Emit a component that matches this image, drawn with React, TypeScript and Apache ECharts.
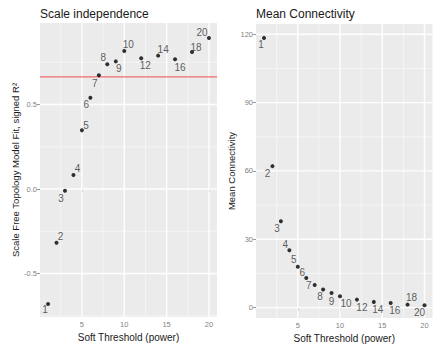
import React, { useEffect, useRef } from "react";
import * as echarts from "echarts";

// Soft-threshold powers tested
const powers = [1, 2, 3, 4, 5, 6, 7, 8, 9, 10, 12, 14, 16, 18, 20];
// Scale-free topology fit, signed R^2
const signedR2 = [-0.68, -0.318, -0.01, 0.083, 0.347, 0.54, 0.673, 0.738, 0.755, 0.817, 0.773, 0.789, 0.767, 0.81, 0.893];
// Mean connectivity per power
const meanConnectivity = [118.4, 62.1, 37.9, 25.2, 17.9, 13.0, 9.9, 7.9, 6.4, 5.0, 3.5, 2.5, 2.0, 1.3, 1.0];
// Cut-off line
const r2Cutoff = 0.663;

// Axis ticks
const xTicks = [5, 10, 15, 20];
const xMinor = [2.5, 7.5, 12.5, 17.5];
const r2Ticks = [-0.5, 0, 0.5];
const r2Minor = [-0.75, -0.25, 0.25, 0.75];
const kTicks = [0, 30, 60, 90, 120];
const kMinor = [15, 45, 75, 105];

// Axis ranges (data range plus 5% padding each side)
const xRange = [0.05, 20.95];
const r2Range = [-0.757, 0.982];
const kRange = [-4.57, 124.5];

// Label nudges (px) for each point's power label
const r2LabelOffsets = [
  [-3, 6], [4, -6], [-4, 8], [4, -6], [4, -5], [-4, 7], [-4, 8], [-4, -7],
  [3, 7], [4, -6], [4, 7], [5, -6], [5, 8], [4, -5], [-7, -6],
];
const kLabelOffsets = [
  [-3, 7], [-5, 7], [-4, 7], [-4, -6], [-4, -7], [-4, -5], [-6, 0], [-3, 7],
  [0, 8], [6, 7], [5, 8], [4, 8], [4, 7], [4, -7], [-5, 7],
];

const FONT = "Liberation Sans, Arial, sans-serif";

// Background grid drawn as two-point line series on the panel's axes
function gridSeries(
  axisIndex: number,
  yRange: number[],
  xMaj: number[],
  xMin: number[],
  yMaj: number[],
  yMin: number[]
) {
  const mk = (pts: number[][], width: number, color: string) => ({
    type: "line",
    xAxisIndex: axisIndex,
    yAxisIndex: axisIndex,
    data: pts,
    symbol: "none",
    silent: true,
    z: 2,
    lineStyle: { color, width },
  });
  return [
    ...xMin.map((v) => mk([[v, yRange[0]], [v, yRange[1]]], 0.8, "#f7f7f7")),
    ...yMin.map((v) => mk([[xRange[0], v], [xRange[1], v]], 0.8, "#f7f7f7")),
    ...xMaj.map((v) => mk([[v, yRange[0]], [v, yRange[1]]], 1.4, "#fefefe")),
    ...yMaj.map((v) => mk([[xRange[0], v], [xRange[1], v]], 1.4, "#fefefe")),
  ];
}

export default function App() {
  const ref = useRef<HTMLDivElement>(null);

  useEffect(() => {
    if (!ref.current) return;
    const chart = echarts.init(ref.current, undefined, { renderer: "svg" });

    const xAxisCommon = (gridIndex: number) => ({
      type: "value" as const,
      gridIndex,
      min: xRange[0],
      max: xRange[1],
      name: "Soft Threshold (power)",
      nameLocation: "middle" as const,
      nameGap: 15,
      nameTextStyle: { fontFamily: FONT, fontSize: 10, color: "#1a1a1a" },
      axisLine: { show: false },
      axisTick: { show: true, length: 3, lineStyle: { color: "#9a9a9a" }, customValues: xTicks },
      axisLabel: { fontFamily: FONT, fontSize: 7.5, color: "#7f7f7f", margin: 3, customValues: xTicks },
      splitLine: { show: false },
    });

    const pointData = (ys: number[], offsets: number[][]) =>
      powers.map((p, i) => ({
        value: [p, ys[i]],
        label: { offset: offsets[i] },
      }));

    const pointLabel = {
      show: true,
      position: "inside" as const,
      formatter: (p: any) => String(p.value[0]),
      fontFamily: FONT,
      fontSize: 10,
      color: "#333333",
      textBorderWidth: 0,
      textShadowBlur: 0,
    };

    const titleStyle = { fontFamily: FONT, fontSize: 12, fontWeight: "normal" as const, color: "#1a1a1a" };

    chart.setOption({
      animation: false,
      title: [
        { text: "Scale independence", left: 40, top: 8, padding: 0, textStyle: titleStyle },
        { text: "Mean Connectivity", left: 256, top: 8, padding: 0, textStyle: titleStyle },
      ],
      grid: [
        { left: 40, top: 23, width: 177, height: 294, show: true, backgroundColor: "#ebebeb", borderWidth: 0, outerBoundsMode: "none" },
        { left: 256, top: 24, width: 176.5, height: 294, show: true, backgroundColor: "#ebebeb", borderWidth: 0, outerBoundsMode: "none" },
      ],
      xAxis: [xAxisCommon(0), xAxisCommon(1)],
      yAxis: [
        {
          type: "value",
          gridIndex: 0,
          min: r2Range[0],
          max: r2Range[1],
          name: "Scale Free Topology Model Fit, signed R²",
          nameLocation: "middle",
          nameGap: 17,
          nameTextStyle: { fontFamily: FONT, fontSize: 9.5, color: "#1a1a1a" },
          axisLine: { show: false },
          axisTick: { show: true, length: 3, lineStyle: { color: "#9a9a9a" }, customValues: r2Ticks },
          axisLabel: { fontFamily: FONT, fontSize: 7.5, color: "#7f7f7f", margin: 3, customValues: r2Ticks, formatter: (v: number) => v.toFixed(1) },
          splitLine: { show: false },
        },
        {
          type: "value",
          gridIndex: 1,
          min: kRange[0],
          max: kRange[1],
          name: "Mean Connectivity",
          nameLocation: "middle",
          nameGap: 20,
          nameTextStyle: { fontFamily: FONT, fontSize: 9.5, color: "#1a1a1a" },
          axisLine: { show: false },
          axisTick: { show: true, length: 3, lineStyle: { color: "#9a9a9a" }, customValues: kTicks },
          axisLabel: { fontFamily: FONT, fontSize: 7.5, color: "#7f7f7f", margin: 3, customValues: kTicks },
          splitLine: { show: false },
        },
      ],
      series: [
        ...gridSeries(0, r2Range, xTicks, xMinor, r2Ticks, r2Minor),
        ...gridSeries(1, kRange, xTicks, xMinor, kTicks, kMinor),
        {
          type: "line",
          xAxisIndex: 0,
          yAxisIndex: 0,
          data: [[xRange[0], r2Cutoff], [xRange[1], r2Cutoff]],
          symbol: "none",
          silent: true,
          z: 2,
          lineStyle: { color: "#f26b6b", width: 1.2 },
        },
        {
          type: "scatter",
          xAxisIndex: 0,
          yAxisIndex: 0,
          z: 3,
          symbolSize: 4,
          itemStyle: { color: "#000000" },
          label: pointLabel,
          data: pointData(signedR2, r2LabelOffsets),
        },
        {
          type: "scatter",
          xAxisIndex: 1,
          yAxisIndex: 1,
          z: 3,
          symbolSize: 4,
          itemStyle: { color: "#000000" },
          label: pointLabel,
          data: pointData(meanConnectivity, kLabelOffsets),
        },
      ],
    });

    return () => chart.dispose();
  }, []);

  return (
    <div
      ref={ref}
      style={{ position: "fixed", left: 0, top: 0, width: 434, height: 347, background: "#fff" }}
    />
  );
}
